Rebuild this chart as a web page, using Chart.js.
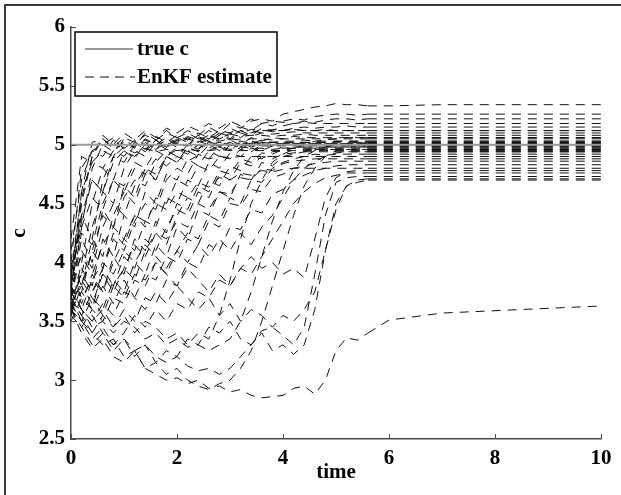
<!DOCTYPE html>
<html>
<head>
<meta charset="utf-8">
<script src="https://cdn.jsdelivr.net/npm/chart.js@4.4.1/dist/chart.umd.min.js"></script>
<style>
  html, body { margin: 0; padding: 0; background: #fff; }
  canvas { display: block; }
</style>
</head>
<body>
<canvas id="chart" width="621" height="495"></canvas>
<script>
// Sample times shared by every ensemble member
const times = [0,0.2,0.4,0.6,0.8,1,1.2,1.4,1.6,1.8, 2,2.2,2.4,2.6,2.8,3,3.2,3.4,3.6,3.8, 4,4.2,4.4,4.6,4.8,5,5.2,5.4,5.6, 6,7,8,9,10];

// True parameter value
const trueTimes = [0, 10];
const trueC = [5, 5];

// EnKF ensemble members (estimate of c over time)
const e01 = [3.9,4.6,5.02,5.05,4.98,5.06,5.02,5.08,5.04,5.1, 5.06,5.12,5.08,5.15,5.1,5.18,5.14,5.2,5.22,5.2, 5.26,5.28,5.3,5.32,5.33,5.35,5.34,5.34,5.33, 5.33,5.34,5.34,5.34,5.34];
const e02 = [3.7,4.3,4.8,5.0,5.06,4.96,5.04,5.0,5.07,5.02, 5.08,5.04,5.1,5.06,5.12,5.1,5.15,5.12,5.18,5.16, 5.2,5.22,5.21,5.24,5.25,5.26,5.26,5.25,5.26, 5.26,5.26,5.26,5.26,5.26];
const e03 = [4.1,4.7,4.95,4.9,5.04,4.97,5.03,4.95,5.02,4.98, 5.05,5.0,5.07,5.03,5.1,5.05,5.12,5.08,5.14,5.12, 5.16,5.18,5.2,5.19,5.21,5.22,5.22,5.21,5.22, 5.22,5.22,5.22,5.22,5.22];
const e04 = [3.6,4.0,4.5,4.8,4.7,4.95,4.88,5.02,4.96,5.05, 5.0,5.06,5.02,5.08,5.04,5.1,5.06,5.12,5.1,5.13, 5.12,5.14,5.15,5.14,5.15,5.15,5.16,5.15,5.15, 5.15,5.15,5.15,5.15,5.15];
const e05 = [3.8,4.4,4.2,4.7,4.9,4.85,5.0,4.94,5.04,4.98, 5.06,5.02,5.08,5.05,5.1,5.07,5.12,5.1,5.13,5.11, 5.12,5.13,5.12,5.12,5.13,5.12,5.12,5.12,5.12, 5.12,5.12,5.12,5.12,5.12];
const e06 = [3.65,3.9,4.3,4.6,4.5,4.8,4.95,4.9,5.02,4.96, 5.04,4.99,5.06,5.02,5.08,5.04,5.1,5.07,5.1,5.09, 5.1,5.11,5.1,5.1,5.1,5.1,5.1,5.1,5.1, 5.1,5.1,5.1,5.1,5.1];
const e07 = [3.75,4.5,4.9,5.05,4.96,5.02,4.98,5.05,5.0,5.06, 5.02,5.07,5.04,5.08,5.05,5.09,5.07,5.08,5.08,5.07, 5.08,5.08,5.09,5.08,5.08,5.08,5.08,5.08,5.08, 5.08,5.08,5.08,5.08,5.08];
const e08 = [3.55,3.8,4.2,4.05,4.4,4.6,4.5,4.75,4.7,4.9, 4.85,4.98,4.94,5.02,4.98,5.04,5.0,5.06,5.03,5.06, 5.05,5.07,5.06,5.06,5.06,5.06,5.06,5.06,5.06, 5.06,5.06,5.06,5.06,5.06];
const e09 = [4.0,4.8,4.95,5.0,4.94,5.03,4.97,5.04,5.0,5.03, 5.01,5.05,5.02,5.04,5.03,5.05,5.04,5.05,5.05,5.04, 5.05,5.05,5.05,5.05,5.05,5.05,5.05,5.05,5.05, 5.05,5.05,5.05,5.05,5.05];
const e10 = [3.7,4.1,3.95,4.3,4.5,4.4,4.65,4.8,4.75,4.9, 4.96,4.92,5.0,4.97,5.02,4.99,5.03,5.01,5.04,5.02, 5.03,5.03,5.04,5.03,5.03,5.03,5.03,5.03,5.03, 5.03,5.03,5.03,5.03,5.03];
const e11 = [3.6,3.75,4.1,4.4,4.3,4.55,4.7,4.65,4.85,4.95, 4.9,5.0,4.96,5.03,4.99,5.02,5.0,5.03,5.01,5.02, 5.02,5.02,5.02,5.02,5.02,5.02,5.02,5.02,5.02, 5.02,5.02,5.02,5.02,5.02];
const e12 = [3.85,4.6,4.85,4.8,4.95,4.9,5.02,4.96,5.04,4.98, 5.02,4.99,5.03,5.0,5.02,5.0,5.01,5.01,5.02,5.01, 5.01,5.01,5.01,5.01,5.01,5.01,5.01,5.01,5.01, 5.01,5.01,5.01,5.01,5.01];
const e13 = [3.5,3.7,3.6,3.95,4.2,4.1,4.35,4.5,4.45,4.7, 4.8,4.75,4.92,4.88,4.98,4.95,5.02,4.98,5.01,4.99, 5.0,5.0,5.01,5.0,5.0,5.0,5.0,5.0,5.0, 5.0,5.0,5.0,5.0,5.0];
const e14 = [3.95,4.4,4.7,4.6,4.85,4.95,4.9,5.0,4.96,5.02, 4.98,5.0,4.97,5.01,4.99,5.0,4.98,5.0,4.99,4.99, 4.99,4.99,4.99,4.99,4.99,4.99,4.99,4.99,4.99, 4.99,4.99,4.99,4.99,4.99];
const e15 = [3.65,3.6,3.85,3.75,4.0,4.2,4.1,4.35,4.3,4.55, 4.5,4.7,4.65,4.85,4.8,4.93,4.9,4.97,4.95,4.99, 4.97,4.98,4.98,4.97,4.98,4.98,4.98,4.98,4.98, 4.98,4.98,4.98,4.98,4.98];
const e16 = [3.8,4.25,4.15,4.5,4.7,4.65,4.85,4.8,4.95,4.9, 4.98,4.94,5.0,4.95,4.99,4.96,4.98,4.97,4.97,4.96, 4.97,4.97,4.97,4.97,4.97,4.97,4.97,4.97,4.97, 4.97,4.97,4.97,4.97,4.97];
const e17 = [3.6,3.85,3.7,3.55,3.8,3.95,3.85,4.1,4.25,4.15, 4.4,4.55,4.5,4.7,4.65,4.82,4.78,4.9,4.88,4.94, 4.95,4.97,4.96,4.96,4.96,4.96,4.96,4.96,4.96, 4.96,4.96,4.96,4.96,4.96];
const e18 = [4.2,4.9,4.85,4.95,4.9,4.98,4.93,4.97,4.94,4.96, 4.95,4.96,4.95,4.95,4.96,4.95,4.95,4.95,4.95,4.95, 4.95,4.95,4.95,4.95,4.95,4.95,4.95,4.95,4.95, 4.95,4.95,4.95,4.95,4.95];
const e19 = [3.7,3.55,3.75,3.9,3.8,4.05,3.95,4.2,4.1,4.3, 4.45,4.4,4.6,4.55,4.75,4.7,4.85,4.82,4.9,4.88, 4.92,4.93,4.94,4.94,4.94,4.94,4.94,4.94,4.94, 4.94,4.94,4.94,4.94,4.94];
const e20 = [3.55,3.45,3.6,3.5,3.7,3.65,3.85,3.8,4.0,3.9, 4.1,4.25,4.2,4.4,4.35,4.55,4.5,4.7,4.68,4.8, 4.85,4.88,4.9,4.92,4.91,4.92,4.92,4.92,4.92, 4.92,4.92,4.92,4.92,4.92];
const e21 = [3.9,4.3,4.55,4.45,4.7,4.6,4.8,4.75,4.88,4.82, 4.9,4.86,4.91,4.88,4.9,4.89,4.9,4.9,4.9,4.9, 4.9,4.9,4.9,4.9,4.9,4.9,4.9,4.9,4.9, 4.9,4.9,4.9,4.9,4.9];
const e22 = [3.65,3.8,3.65,3.9,3.75,3.95,4.15,4.05,4.25,4.2, 4.35,4.3,4.5,4.45,4.6,4.58,4.72,4.7,4.8,4.78, 4.84,4.86,4.87,4.88,4.88,4.88,4.88,4.88,4.88, 4.88,4.88,4.88,4.88,4.88];
const e23 = [3.75,3.6,3.5,3.65,3.55,3.75,3.7,3.9,3.85,4.05, 4.0,4.2,4.15,4.35,4.3,4.5,4.48,4.62,4.6,4.72, 4.75,4.8,4.82,4.84,4.85,4.86,4.86,4.86,4.86, 4.86,4.86,4.86,4.86,4.86];
const e24 = [3.6,3.5,3.4,3.55,3.45,3.6,3.5,3.7,3.65,3.85, 3.8,4.0,3.95,4.15,4.1,4.3,4.28,4.45,4.42,4.58, 4.62,4.7,4.74,4.78,4.8,4.82,4.83,4.83,4.83, 4.83,4.83,4.83,4.83,4.83];
const e25 = [3.85,4.05,3.9,4.15,4.3,4.2,4.4,4.35,4.5,4.45, 4.6,4.55,4.68,4.64,4.72,4.7,4.76,4.74,4.78,4.77, 4.79,4.8,4.8,4.8,4.8,4.8,4.8,4.8,4.8, 4.8,4.8,4.8,4.8,4.8];
const e26 = [3.7,3.5,3.35,3.45,3.3,3.4,3.55,3.45,3.6,3.5, 3.65,3.6,3.75,3.7,3.85,3.8,3.95,3.9,4.05,4.2, 4.35,4.5,4.6,4.67,4.72,4.74,4.76,4.76,4.76, 4.76,4.76,4.76,4.76,4.76];
const e27 = [3.6,3.45,3.3,3.4,3.25,3.35,3.2,3.3,3.15,3.25, 3.2,3.35,3.3,3.45,3.4,3.5,3.35,3.3,3.4,3.25, 3.3,3.22,3.3,3.6,4.1,4.5,4.65,4.68,4.7, 4.7,4.7,4.7,4.7,4.7];
const e28 = [3.7,4.2,4.0,4.45,4.3,4.65,4.55,4.8,4.7,4.9, 4.85,4.95,4.9,5.0,4.95,5.02,4.98,5.03,5.0,5.02, 5.01,5.02,5.02,5.02,5.02,5.03,5.03,5.03,5.03, 5.03,5.03,5.03,5.03,5.03];
const e29 = [3.55,3.95,3.8,4.2,4.05,4.4,4.3,4.6,4.5,4.75, 4.7,4.88,4.82,4.95,4.9,5.0,4.96,5.02,4.99,5.0, 5.0,5.0,5.0,5.0,5.0,5.0,5.0,5.0,5.0, 5.0,5.0,5.0,5.0,5.0];
const e30 = [3.8,3.65,3.9,3.75,4.05,3.9,4.2,4.1,4.35,4.25, 4.5,4.45,4.65,4.6,4.78,4.75,4.88,4.85,4.93,4.92, 4.96,4.97,4.98,4.98,4.98,4.98,4.98,4.98,4.98, 4.98,4.98,4.98,4.98,4.98];
const e31 = [3.9,4.35,4.7,4.6,4.9,5.05,4.98,5.1,5.04,5.12, 5.06,5.1,5.05,5.12,5.08,5.14,5.1,5.13,5.12,5.12, 5.12,5.13,5.12,5.12,5.12,5.12,5.12,5.12,5.12, 5.12,5.12,5.12,5.12,5.12];
const e32 = [3.65,3.5,3.7,3.6,3.85,3.75,4.0,3.9,4.15,4.05, 4.3,4.2,4.45,4.4,4.6,4.55,4.75,4.7,4.85,4.82, 4.9,4.92,4.94,4.96,4.96,4.96,4.96,4.96,4.96, 4.96,4.96,4.96,4.96,4.96];
const e33 = [4.0,3.8,4.1,3.95,4.25,4.15,4.4,4.3,4.55,4.5, 4.7,4.65,4.82,4.78,4.9,4.88,4.96,4.94,5.0,4.99, 5.01,5.01,5.01,5.01,5.01,5.01,5.01,5.01,5.01, 5.01,5.01,5.01,5.01,5.01];
const e34 = [3.75,4.55,4.9,5.08,5.0,5.1,5.04,5.12,5.06,5.14, 5.1,5.16,5.12,5.18,5.14,5.2,5.16,5.22,5.18,5.2, 5.19,5.18,5.19,5.18,5.18,5.18,5.18,5.18,5.18, 5.18,5.18,5.18,5.18,5.18];
const e35 = [3.6,3.4,3.27,3.35,3.2,3.15,3.25,3.1,3.05,3.0, 3.02,2.97,3.0,2.93,2.95,2.9,2.92,2.87,2.85,2.86, 2.87,2.93,2.95,2.88,3.0,3.25,3.36,3.34,3.4, 3.51,3.57,3.59,3.61,3.63];
const e36 = [3.7,3.55,3.4,3.3,3.35,3.2,3.25,3.1,3.15,3.05, 3.1,3.0,2.95,2.92,2.97,3.0,3.1,3.25,3.5,3.8, 4.1,4.4,4.65,4.8,4.9,4.95,5.0,4.98,4.99, 4.99,4.99,4.99,4.99,4.99];
const e37 = [3.65,3.5,3.55,3.4,3.3,3.35,3.25,3.3,3.2,3.15, 3.2,3.12,3.08,3.1,3.05,3.1,3.2,3.3,3.42,3.45, 3.38,3.3,3.45,3.9,4.4,4.68,4.72,4.73,4.73, 4.73,4.73,4.73,4.73,4.73];
const e38 = [3.75,3.6,3.45,3.5,3.4,3.5,3.45,3.35,3.4,3.3, 3.35,3.28,3.3,3.25,3.3,3.35,3.5,3.75,4.05,4.35, 4.6,4.78,4.9,4.95,4.98,5.0,5.01,5.02,5.02, 5.02,5.02,5.02,5.02,5.02];
const e39 = [3.8,3.6,3.5,3.6,3.45,3.55,3.4,3.5,3.45,3.35, 3.4,3.3,3.4,3.35,3.55,3.85,4.2,4.5,4.7,4.85, 4.92,4.96,5.0,5.03,5.04,5.05,5.06,5.06,5.06, 5.06,5.06,5.06,5.06,5.06];
const e40 = [3.7,3.9,3.75,3.95,3.8,3.7,3.9,3.85,4.0,3.9, 3.8,3.95,3.85,3.75,3.9,3.8,3.95,4.05,3.95,4.0, 3.9,3.95,3.87,4.2,4.55,4.72,4.77,4.78,4.78, 4.78,4.78,4.78,4.78,4.78];
const e41 = [3.6,3.75,3.6,3.8,3.65,3.85,3.7,3.6,3.75,3.65, 3.8,3.7,3.6,3.7,3.55,3.65,3.5,3.6,3.55,3.45, 3.55,3.5,3.6,3.75,4.1,4.45,4.65,4.7,4.71, 4.71,4.71,4.71,4.71,4.71];
const e42 = [3.9,3.7,3.85,4.0,3.9,4.1,4.0,4.15,4.05,3.95, 4.1,4.0,4.15,4.05,4.2,4.1,4.25,4.15,4.3,4.4, 4.55,4.7,4.8,4.86,4.9,4.93,4.94,4.94,4.94, 4.94,4.94,4.94,4.94,4.94];

const ensemble = [e01,e02,e03,e04,e05,e06,e07,e08,e09,e10,e11,e12,e13,e14,
                  e15,e16,e17,e18,e19,e20,e21,e22,e23,e24,e25,e26,e27,e28,
                  e29,e30,e31,e32,e33,e34,e35,e36,e37,e38,e39,e40,e41,e42];

// Axis ticks and legend text
const xTicks = [0, 2, 4, 6, 8, 10];
const yTicks = [2.5, 3, 3.5, 4, 4.5, 5, 5.5, 6];
const legendLabels = ['true c', 'EnKF estimate'];

// Where each trajectory has settled; the settled part is stroked separately
const SETTLED_FROM = 28;

const FONT = "'Liberation Serif', 'Times New Roman', Times, serif";
const DASH = [9, 7];
const TRUE_COLOR = '#9a9a9a';
const EST_COLOR = '#111111';
const AXIS_COLOR = '#4a4a4a';

function toPoints(xs, ys, from, to) {
  const out = [];
  for (let i = from; i <= to; i++) out.push({ x: xs[i], y: ys[i] });
  return out;
}

const datasets = [{
  label: legendLabels[0],
  data: toPoints(trueTimes, trueC, 0, trueC.length - 1),
  borderColor: TRUE_COLOR,
  borderWidth: 2
}];
ensemble.forEach((m) => {
  datasets.push({
    label: legendLabels[1],
    data: toPoints(times, m, 0, SETTLED_FROM),
    borderColor: EST_COLOR, borderWidth: 1, borderDash: DASH
  });
  datasets.push({
    label: legendLabels[1],
    data: toPoints(times, m, SETTLED_FROM, times.length - 1),
    borderColor: EST_COLOR, borderWidth: 1, borderDash: DASH
  });
});

// Frame, inward tick marks and the boxed legend
const decorations = {
  id: 'decorations',
  afterDatasetsDraw(chart) {
    const { ctx, chartArea: a, scales: { x, y } } = chart;
    ctx.save();
    // figure frame
    ctx.strokeStyle = '#3a3a3a';
    ctx.lineWidth = 2;
    ctx.beginPath();
    ctx.moveTo(5, chart.height + 2);
    ctx.lineTo(5, 5);
    ctx.lineTo(chart.width + 2, 5);
    ctx.stroke();

    // ticks pointing into the plot
    ctx.strokeStyle = AXIS_COLOR;
    ctx.lineWidth = 1;
    ctx.beginPath();
    xTicks.forEach(v => {
      const px = Math.round(x.getPixelForValue(v)) + 0.5;
      ctx.moveTo(px, a.bottom);
      ctx.lineTo(px, a.bottom - 5);
    });
    yTicks.forEach(v => {
      const py = Math.round(y.getPixelForValue(v)) + 0.5;
      ctx.moveTo(a.left, py);
      ctx.lineTo(a.left + 5, py);
    });
    ctx.stroke();

    // legend box
    const bx = a.left + 4, by = a.top + 5, bw = 202, bh = 64;
    ctx.fillStyle = '#fff';
    ctx.fillRect(bx, by, bw, bh);
    ctx.strokeStyle = '#000';
    ctx.lineWidth = 1.5;
    ctx.strokeRect(bx, by, bw, bh);

    const row1 = by + 17, row2 = by + 45;
    ctx.strokeStyle = TRUE_COLOR;
    ctx.lineWidth = 2;
    ctx.beginPath();
    ctx.moveTo(bx + 10, row1); ctx.lineTo(bx + 58, row1);
    ctx.stroke();

    ctx.strokeStyle = EST_COLOR;
    ctx.lineWidth = 1.2;
    ctx.setLineDash([9, 6]);
    ctx.beginPath();
    ctx.moveTo(bx + 10, row2); ctx.lineTo(bx + 60, row2);
    ctx.stroke();
    ctx.setLineDash([]);

    ctx.fillStyle = '#000';
    ctx.font = 'bold 21px ' + FONT;
    ctx.textBaseline = 'middle';
    ctx.textAlign = 'left';
    ctx.fillText(legendLabels[0], bx + 62, row1 + 1);
    ctx.fillText(legendLabels[1], bx + 62, row2 + 1);
    ctx.restore();
  }
};

const tickFont = { family: FONT, size: 21, weight: 'bold' };
const plainNumber = v => String(v);

new Chart(document.getElementById('chart'), {
  type: 'line',
  data: { datasets },
  plugins: [decorations],
  options: {
    responsive: false,
    animation: false,
    devicePixelRatio: 1,
    layout: { padding: { left: 0, right: 20, top: 27, bottom: 0 } },
    plugins: { legend: { display: false }, tooltip: { enabled: false } },
    elements: { point: { radius: 0 }, line: { tension: 0 } },
    scales: {
      x: {
        type: 'linear', min: 0, max: 10,
        afterBuildTicks: s => { s.ticks = xTicks.map(v => ({ value: v })); },
        grid: { display: false, drawTicks: false },
        border: { display: true, color: AXIS_COLOR, width: 1.5 },
        ticks: { font: tickFont, color: '#000', padding: 7, maxRotation: 0, autoSkip: false, callback: plainNumber },
        title: { display: true, text: 'time', font: tickFont, color: '#000', padding: { top: 0, bottom: 10 } },
        afterFit: s => { s.height = 56; }
      },
      y: {
        type: 'linear', min: 2.5, max: 6,
        afterBuildTicks: s => { s.ticks = yTicks.map(v => ({ value: v })); },
        grid: { display: false, drawTicks: false },
        border: { display: true, color: AXIS_COLOR, width: 1.5 },
        ticks: { font: tickFont, color: '#000', padding: 6, autoSkip: false, callback: plainNumber },
        title: { display: true, text: 'c', font: tickFont, color: '#000', padding: { top: 7, bottom: 0 } },
        afterFit: s => { s.width = 71; }
      }
    }
  }
});
</script>
</body>
</html>
